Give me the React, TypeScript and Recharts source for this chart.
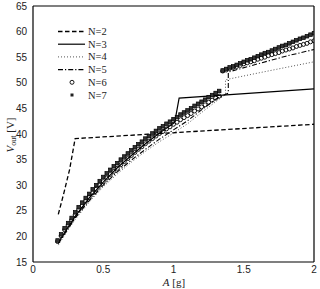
import { ComposedChart, Line, Scatter, XAxis, YAxis } from 'recharts'

const X_TICKS = [0, 0.5, 1, 1.5, 2]
const Y_TICKS = [15, 20, 25, 30, 35, 40, 45, 50, 55, 60, 65]

// N=2, dashed
const N2_A = [0.18, 0.22, 0.26, 0.3, 2.0]
const N2_V = [24.3, 28.5, 33.0, 39.1, 41.9]

// N=3, solid
const N3_A = [0.18, 0.25, 0.3, 0.4, 0.5, 0.6, 0.7, 0.8, 0.9, 1.0, 1.01, 1.04, 2.0]
const N3_V = [18.8, 21.8, 23.9, 27.5, 30.6, 33.4, 35.8, 38.1, 40.2, 42.1, 42.5, 47.0, 48.8]

// N=4, dotted
const N4_A = [0.18, 0.25, 0.3, 0.4, 0.5, 0.6, 0.7, 0.8, 0.9, 1.0, 1.1, 1.2, 1.3, 1.37, 1.37, 1.6, 1.8, 2.0]
const N4_V = [18.3, 21.3, 23.3, 26.7, 29.7, 32.2, 34.5, 36.6, 38.5, 40.2, 42.0, 44.2, 46.3, 47.7, 50.6, 51.9, 53.0, 54.1]

// N=5, dash-dot
const N5_A = [0.18, 0.25, 0.3, 0.4, 0.5, 0.6, 0.7, 0.8, 0.9, 1.0, 1.1, 1.2, 1.3, 1.39, 1.39, 1.6, 1.8, 2.0]
const N5_V = [18.6, 21.5, 23.6, 27.0, 30.0, 32.6, 34.9, 37.0, 39.0, 40.8, 42.6, 44.7, 46.8, 48.0, 52.1, 53.7, 55.2, 56.5]

// marker grid shared by N=6 and N=7
const A_GRID = [
  0.175, 0.2, 0.225, 0.25, 0.275, 0.3, 0.325, 0.35, 0.375, 0.4,
  0.425, 0.45, 0.475, 0.5, 0.525, 0.55, 0.575, 0.6, 0.625, 0.65,
  0.675, 0.7, 0.725, 0.75, 0.775, 0.8, 0.825, 0.85, 0.875, 0.9,
  0.925, 0.95, 0.975, 1.0, 1.025, 1.05, 1.075, 1.1, 1.125, 1.15,
  1.175, 1.2, 1.225, 1.25, 1.275, 1.3, 1.325, 1.35, 1.375, 1.4,
  1.425, 1.45, 1.475, 1.5, 1.525, 1.55, 1.575, 1.6, 1.625, 1.65,
  1.675, 1.7, 1.725, 1.75, 1.775, 1.8, 1.825, 1.85, 1.875, 1.9,
  1.925, 1.95, 1.975, 2.0,
]

const N6_V = [
  19.0, 20.1, 21.3, 22.2, 23.2, 24.2, 25.2, 26.0, 26.9, 27.6,
  28.5, 29.2, 30.0, 30.7, 31.4, 32.1, 32.7, 33.3, 34.0, 34.6,
  35.2, 35.8, 36.4, 37.0, 37.5, 38.1, 38.6, 39.1, 39.6, 40.1,
  40.5, 41.0, 41.4, 41.9, 42.3, 42.8, 43.2, 43.6, 44.0, 44.5,
  44.9, 45.3, 45.7, 46.2, 46.6, 47.0, 47.4, 52.3, 52.5, 52.8,
  53.0, 53.2, 53.4, 53.7, 53.9, 54.1, 54.3, 54.6, 54.8, 55.0,
  55.3, 55.5, 55.7, 55.9, 56.2, 56.4, 56.6, 56.8, 57.1, 57.3,
  57.5, 57.7, 58.0, 58.2,
]

const N7_V = [
  19.2, 20.4, 21.6, 22.6, 23.6, 24.7, 25.7, 26.6, 27.5, 28.3,
  29.2, 30.0, 30.8, 31.6, 32.3, 33.0, 33.7, 34.3, 35.0, 35.6,
  36.2, 36.8, 37.4, 38.0, 38.5, 39.1, 39.6, 40.1, 40.6, 41.1,
  41.5, 42.0, 42.4, 42.9, 43.3, 43.8, 44.2, 44.6, 45.0, 45.5,
  45.9, 46.3, 46.7, 47.2, 47.6, 48.0, 48.4, 52.4, 52.7, 53.0,
  53.2, 53.5, 53.8, 54.1, 54.4, 54.6, 54.9, 55.2, 55.5, 55.8,
  56.0, 56.3, 56.6, 56.9, 57.2, 57.4, 57.7, 58.0, 58.3, 58.6,
  58.8, 59.1, 59.4, 59.7,
]

const LEGEND_NAMES = ['N=2', 'N=3', 'N=4', 'N=5', 'N=6', 'N=7']

const pts = (a: number[], v: number[]) => a.map((x, i) => ({ a: x, v: v[i] }))

const SERIF = '"Liberation Serif", "DejaVu Serif", serif'
const SANS = '"Liberation Sans", Arial, sans-serif'

const LINES = [
  { name: 'N=2', data: pts(N2_A, N2_V), dash: '4.5 2.5', color: '#000', w: 1.3 },
  { name: 'N=3', data: pts(N3_A, N3_V), dash: undefined, color: '#000', w: 1.2 },
  { name: 'N=4', data: pts(N4_A, N4_V), dash: '1 2', color: '#555', w: 1 },
  { name: 'N=5', data: pts(N5_A, N5_V), dash: '5 2 1.2 2', color: '#000', w: 1.1 },
]

const CircleMark = (p: any) => (
  <circle cx={p.cx} cy={p.cy} r={2} fill="none" stroke="#000" strokeWidth={0.9} />
)
const SquareMark = (p: any) => (
  <rect x={p.cx - 1.8} y={p.cy - 1.8} width={3.6} height={3.6} fill="#333" stroke="#000" strokeWidth={0.7} />
)

const tickStyle = { fontSize: 10, fill: '#222', fontFamily: SANS }

export default function App() {
  const legendY = (i: number) => 31.5 + i * 12.7
  return (
    <div style={{ position: 'absolute', left: 0, top: 0, width: 320, height: 289, background: '#fff' }}>
      <ComposedChart width={320} height={289} margin={{ top: 6, right: 6, bottom: 0, left: 0 }}>
        <XAxis
          dataKey="a" type="number" domain={[0, 2]} ticks={X_TICKS} height={27}
          tickLine={false} tickSize={0} tickMargin={4} tick={tickStyle}
          axisLine={{ stroke: '#000', strokeWidth: 1.2 }} allowDataOverflow
        />
        <XAxis
          xAxisId="bin" type="number" domain={[0, 2]} ticks={X_TICKS} orientation="bottom" mirror
          tick={false} tickSize={4} tickLine={{ stroke: '#000' }} axisLine={false}
        />
        <XAxis
          xAxisId="top" type="number" domain={[0, 2]} ticks={X_TICKS} orientation="top" mirror
          tick={false} tickSize={4} tickLine={{ stroke: '#000' }} axisLine={{ stroke: '#000', strokeWidth: 1.2 }}
        />
        <YAxis
          type="number" domain={[15, 65]} ticks={Y_TICKS} width={33}
          tickLine={false} tickSize={0} tickMargin={6} tick={tickStyle}
          axisLine={{ stroke: '#000', strokeWidth: 1.2 }} allowDataOverflow
        />
        <YAxis
          yAxisId="lin" type="number" domain={[15, 65]} ticks={Y_TICKS} orientation="left" mirror
          tick={false} tickSize={4} tickLine={{ stroke: '#000' }} axisLine={false}
        />
        <YAxis
          yAxisId="right" type="number" domain={[15, 65]} ticks={Y_TICKS} orientation="right" mirror
          tick={false} tickSize={4} tickLine={{ stroke: '#000' }} axisLine={{ stroke: '#000', strokeWidth: 1.2 }}
        />
        {LINES.map(s => (
          <Line
            key={s.name} data={s.data} dataKey="v" type="linear" stroke={s.color}
            strokeWidth={s.w} strokeDasharray={s.dash} dot={false} activeDot={false}
            isAnimationActive={false}
          />
        ))}
        <Scatter data={pts(A_GRID, N6_V)} dataKey="v" shape={CircleMark} isAnimationActive={false} />
        <Scatter data={pts(A_GRID, N7_V)} dataKey="v" shape={SquareMark} isAnimationActive={false} />
      </ComposedChart>
      <svg width={320} height={289} style={{ position: 'absolute', left: 0, top: 0, pointerEvents: 'none' }}>
        {LEGEND_NAMES.map((name, i) => {
          const y = legendY(i)
          const line = LINES[i]
          return (
            <g key={name}>
              {line && (
                <line x1={58} x2={85} y1={y} y2={y} stroke={line.color} strokeWidth={line.w} strokeDasharray={line.dash} />
              )}
              {i === 4 && <circle cx={72} cy={y} r={2} fill="none" stroke="#000" strokeWidth={0.9} />}
              {i === 5 && <rect x={70.5} y={y - 1.5} width={3} height={3} fill="#222" />}
              <text x={88} y={y + 3.5} fontSize={10.5} fontFamily={SERIF} fill="#222">{name}</text>
            </g>
          )
        })}
        <text x={174} y={285.5} textAnchor="middle" fontSize={11} fontFamily={SERIF} fill="#222">
          <tspan fontStyle="italic">A</tspan> [g]
        </text>
        <text transform="translate(14,135) rotate(-90)" textAnchor="middle" fontSize={11} fontFamily={SERIF} fill="#222">
          <tspan fontStyle="italic">V</tspan>
          <tspan fontSize={8} dy={2}>out</tspan>
          <tspan dy={-2}> [V]</tspan>
        </text>
      </svg>
    </div>
  )
}
